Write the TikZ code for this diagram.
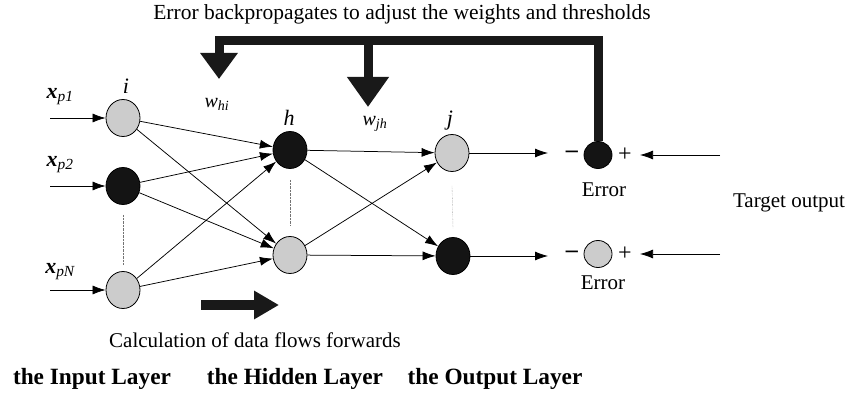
\documentclass[tikz,border=0pt]{standalone}
\usepackage{fontspec}
\setmainfont{Liberation Serif}
\usetikzlibrary{arrows.meta,shapes.geometric}
\begin{document}
\begin{tikzpicture}[x=1pt,y=-1pt,
  neuron/.style={ellipse,draw,line width=0.8pt,minimum width=34pt,minimum height=37pt,inner sep=0pt},
  grayn/.style={neuron,fill=black!20},
  blackn/.style={neuron,fill=black!92},
  errn/.style={minimum width=28pt,minimum height=27pt},
  conn/.style={line width=0.75pt,-{Latex[length=13pt,width=9pt]}},
  dots/.style={densely dotted,line width=0.4pt,black!55},
  thick arrow/.style={line width=9pt,line join=miter,draw=black!90},
  lbl/.style={font=\fontsize{22}{24}\selectfont\itshape,inner sep=0pt},
  wlbl/.style={font=\fontsize{20}{22}\selectfont\itshape,inner sep=0pt},
  txt/.style={font=\fontsize{21}{24}\selectfont,inner sep=0pt},
  sign/.style={font=\fontsize{24}{26}\selectfont,inner sep=0pt},
  layer/.style={font=\fontsize{23.3}{26}\selectfont\bfseries,inner sep=0pt}
]
\useasboundingbox (0,0) rectangle (846,396);

% neurons
\node[grayn]  (i1) at (123,118) {};
\node[blackn] (i2) at (123,186) {};
\node[grayn]  (i3) at (123,290) {};
\node[blackn] (h1) at (290,150) {};
\node[grayn]  (h2) at (290,255) {};
\node[grayn]  (j1) at (452,153) {};
\node[blackn] (j2) at (453,256) {};
\node[blackn,errn] (e1) at (598,155) {};
\node[grayn,errn]  (e2) at (598,254) {};

% free ends
\coordinate (x1) at (50,118);
\coordinate (x2) at (50,186);
\coordinate (x3) at (50,290);
\coordinate (o1) at (548,153);
\coordinate (o2) at (548,256);
\coordinate (t1) at (720,155);
\coordinate (t2) at (720,254);
\coordinate (t1e) at (640,155);
\coordinate (t2e) at (640,254);

% labels
\node[lbl] (xl1) at (60,97) {\textbf{x}\textsubscript{p1}};
\node[lbl] (xl2) at (60,165) {\textbf{x}\textsubscript{p2}};
\node[lbl] (xl3) at (60,272) {\textbf{x}\textsubscript{pN}};
\node[lbl] (li) at (126,86) {i};
\node[lbl] (lh) at (289,118) {h};
\node[lbl] (lj) at (450,121) {j};
\node[wlbl] (whi) at (217,104) {w\textsubscript{hi}};
\node[wlbl] (wjh) at (375,124) {w\textsubscript{jh}};

% inputs
\draw[conn] (x1) -- (i1);
\draw[conn] (x2) -- (i2);
\draw[conn] (x3) -- (i3);

% input -> hidden
\foreach \a in {i1,i2,i3}{
  \foreach \b in {h1,h2}{
    \draw[conn] (\a) -- (\b);
  }
}
% hidden -> output
\foreach \a in {h1,h2}{
  \foreach \b in {j1,j2}{
    \draw[conn] (\a) -- (\b);
  }
}
\draw[conn] (j1) -- (o1);
\draw[conn] (j2) -- (o2);
\draw[conn] (t1) -- (t1e);
\draw[conn] (t2) -- (t2e);

% dotted links
\draw[dots] ([yshift=-10pt]i2.south) -- ([yshift=7pt]i3.north);
\draw[dots] ([yshift=-11pt]h1.south) -- ([yshift=11pt]h2.north);
\draw[dots] ([yshift=-14pt]j1.south) -- ([yshift=9pt]j2.north);

% error signs
\node[sign] (m1) at (572,154) {\textbf{--}};
\node[sign] (p1) at (625,155) {+};
\node[sign] (m2) at (572,254) {\textbf{--}};
\node[sign] (p2) at (625,254) {+};
\node[txt] (el1) at (604,190) {Error};
\node[txt] (el2) at (603,283) {Error};
\node[txt] (tgt) at (789,203) {Target output};

% feedback arrows
\coordinate (c1) at (598,41);
\coordinate (c2) at (219,41);
\coordinate (c3) at (219,79);
\coordinate (c4) at (368,41);
\coordinate (c5) at (368,107);
\draw[thick arrow,-{Triangle[length=26pt,width=36pt]}] (e1.north) -- (c1) -- (c2) -- (c3);
\draw[thick arrow,-{Triangle[length=30pt,width=40pt]}] (c4) -- (c5);

% forward arrow
\coordinate (f1) at (201,305);
\coordinate (f2) at (279,305);
\draw[thick arrow,line width=10pt,-{Triangle[length=25pt,width=27pt]}] (f1) -- (f2);

% texts
\node[txt,font=\fontsize{21.5}{24}\selectfont] (top) at (402,14) {Error backpropagates to adjust the weights and thresholds};
\node[txt] (calc) at (255,340) {Calculation of data flows forwards};
\node[layer] (L1) at (92,379) {the Input Layer};
\node[layer] (L2) at (295,379) {the Hidden Layer};
\node[layer] (L3) at (495,379) {the Output Layer};
\end{tikzpicture}
\end{document}
